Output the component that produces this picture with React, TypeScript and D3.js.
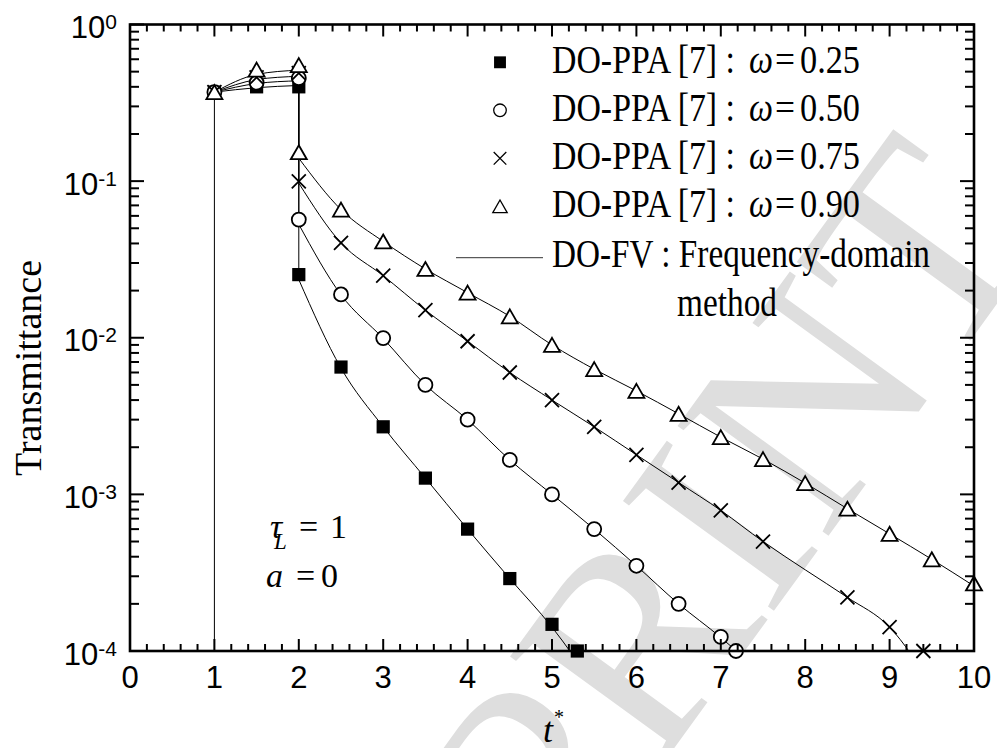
import React from "react";
import * as d3 from "d3";

// ---- data ----
const pulseT = [1, 1.5, 2];
const decayT = [2, 2.5, 3, 3.5, 4, 4.5, 5, 5.5, 6, 6.5, 7, 7.5, 8, 8.5, 9, 9.5, 10];

// DO-PPA [7] markers
const ppaPulse025 = [0.37, 0.40, 0.40];
const ppaPulse050 = [0.37, 0.425, 0.455];
const ppaPulse075 = [0.37, 0.46, 0.49];
const ppaPulse090 = [0.37, 0.515, 0.55];

const ppaT025 = [2, 2.5, 3, 3.5, 4, 4.5, 5, 5.3];
const ppa025 = [0.0253, 0.0065, 0.0027, 0.00127, 0.0006, 0.00029, 0.000148, 0.0001];
const ppaT050 = [2, 2.5, 3, 3.5, 4, 4.5, 5, 5.5, 6, 6.5, 7, 7.18];
const ppa050 = [0.0568, 0.0189, 0.00995, 0.005, 0.003, 0.00166, 0.001, 0.0006, 0.00035, 0.0002, 0.000123, 0.0001];
const ppaT075 = [2, 2.5, 3, 3.5, 4, 4.5, 5, 5.5, 6, 6.5, 7, 7.5, 8.5, 9, 9.4];
const ppa075 = [0.0997, 0.0403, 0.0249, 0.015, 0.0095, 0.006, 0.004, 0.0027, 0.00179, 0.00119, 0.00079, 0.0005, 0.00022, 0.000142, 0.0001];
const ppa090 = [0.153, 0.0658, 0.0412, 0.0275, 0.0194, 0.0137, 0.009, 0.0063, 0.00458, 0.00327, 0.00232, 0.00168, 0.00118, 0.00081, 0.00056, 0.000385, 0.00027];

// DO-FV solid curves
const fvPulse025 = [0.37, 0.395, 0.408];
const fvPulse050 = [0.37, 0.42, 0.437];
const fvPulse075 = [0.37, 0.445, 0.467];
const fvPulse090 = [0.37, 0.48, 0.511];
const fv025 = [0.0235, 0.0064, 0.0027, 0.00127, 0.0006, 0.00029, 0.000142, 0.00006];
const fv050 = [0.053, 0.0188, 0.0099, 0.005, 0.003, 0.00166, 0.001, 0.0006, 0.00035, 0.0002, 0.000122, 0.00007];
const fv075 = [0.097, 0.0403, 0.0249, 0.015, 0.0095, 0.006, 0.004, 0.0027, 0.00179, 0.00119, 0.00079, 0.0005, 0.00033, 0.00022, 0.000142, 0.00006];
const fv090 = [0.14, 0.0658, 0.0412, 0.0275, 0.0194, 0.0137, 0.009, 0.0063, 0.00458, 0.00327, 0.00232, 0.00168, 0.00118, 0.00081, 0.00056, 0.000385, 0.00026];

const xTicks = [0, 1, 2, 3, 4, 5, 6, 7, 8, 9, 10];
const yExps = [0, -1, -2, -3, -4];
const legendLabels = ["0.25", "0.50", "0.75", "0.90"];
const legendShapes = ["square", "circle", "cross", "triangle"];

const SERIF = "'Liberation Serif', 'Times New Roman', serif";
const SANS = "'Liberation Sans', Arial, sans-serif";

const W = 997;
const H = 748;
const x = d3.scaleLinear().domain([0, 10]).range([130, 974]);
const y = d3.scaleLog().domain([1e-4, 1]).range([651, 24.5]);

const curve = d3
  .line<[number, number]>()
  .x((d) => x(d[0]))
  .y((d) => y(d[1]))
  .curve(d3.curveMonotoneX);

const zip = (ts: number[], vs: number[]) => vs.map((v, i) => [ts[i], v] as [number, number]);

function Marker({ shape, cx, cy, s = 1, sw = 1.8 }: any) {
  if (shape === "square") {
    const h = 6.6 * s;
    return <rect x={cx - h} y={cy - h} width={2 * h} height={2 * h} fill="#000" />;
  }
  if (shape === "circle") {
    return <circle cx={cx} cy={cy} r={7 * s} fill="#fff" stroke="#000" strokeWidth={sw} />;
  }
  if (shape === "cross") {
    const h = 7 * s;
    return (
      <path
        d={`M${cx - h},${cy - h}L${cx + h},${cy + h}M${cx - h},${cy + h}L${cx + h},${cy - h}`}
        stroke="#000"
        strokeWidth={sw}
        fill="none"
      />
    );
  }
  const w = 8 * s;
  const h = 7 * s;
  return (
    <path
      d={`M${cx},${cy - h}L${cx + w},${cy + h}L${cx - w},${cy + h}Z`}
      fill="#fff"
      stroke="#000"
      strokeWidth={sw}
    />
  );
}

export default function App() {
  const minorX = d3.range(0, 10.001, 0.2).filter((t) => Math.abs(t - Math.round(t)) > 1e-6);
  const minorY: number[] = [];
  for (let e = -4; e < 0; e++) for (let k = 2; k <= 9; k++) minorY.push(k * Math.pow(10, e));

  const [x0, x1] = x.range();
  const [yb, yt] = y.range();

  const series = [
    { shape: "square", pulse: ppaPulse025, t: ppaT025, v: ppa025, fvp: fvPulse025, fvT: decayT.slice(0, fv025.length), fv: fv025 },
    { shape: "circle", pulse: ppaPulse050, t: ppaT050, v: ppa050, fvp: fvPulse050, fvT: decayT.slice(0, fv050.length), fv: fv050 },
    { shape: "cross", pulse: ppaPulse075, t: ppaT075, v: ppa075, fvp: fvPulse075, fvT: decayT.slice(0, fv075.length), fv: fv075 },
    { shape: "triangle", pulse: ppaPulse090, t: decayT, v: ppa090, fvp: fvPulse090, fvT: decayT, fv: fv090 },
  ];

  return (
    <svg width={W} height={H} style={{ position: "absolute", left: 0, top: 0, background: "#fff" }}>
      <defs>
        <clipPath id="plotClip">
          <rect x={x0} y={yt} width={x1 - x0} height={yb - yt} />
        </clipPath>
      </defs>

      {/* watermark */}
      <text
        transform="translate(1047,235) rotate(-54)"
        textAnchor="end"
        fontFamily={SERIF}
        fontSize={285}
        fill="#dedede"
      >
        PREPRINT
      </text>

      {/* solid DO-FV curves */}
      <g clipPath="url(#plotClip)" fill="none" stroke="#000" strokeWidth={1}>
        <line x1={x(1)} x2={x(1)} y1={y(1e-4)} y2={y(fvPulse025[0])} />
        {series.map((s, i) => (
          <g key={i}>
            <path d={curve(zip(pulseT, s.fvp)) || ""} />
            <line x1={x(2)} x2={x(2)} y1={y(s.fvp[2])} y2={y(s.fv[0])} />
            <path d={curve(zip(s.fvT, s.fv)) || ""} />
          </g>
        ))}
      </g>

      {/* DO-PPA markers */}
      {series.map((s, i) => (
        <g key={i}>
          {s.pulse.map((v, j) => (
            <Marker key={"p" + j} shape={s.shape} cx={x(pulseT[j])} cy={y(v)} />
          ))}
          {s.v.map((v, j) => (
            <Marker key={"d" + j} shape={s.shape} cx={x(s.t[j])} cy={y(v)} />
          ))}
        </g>
      ))}

      {/* frame and ticks */}
      <g stroke="#000" strokeWidth={2}>
        {xTicks.map((t) => (
          <g key={t}>
            <line x1={x(t)} x2={x(t)} y1={yb} y2={yb - 12} />
            <line x1={x(t)} x2={x(t)} y1={yt} y2={yt + 12} />
          </g>
        ))}
        {minorX.map((t) => (
          <g key={t}>
            <line x1={x(t)} x2={x(t)} y1={yb} y2={yb - 7} />
            <line x1={x(t)} x2={x(t)} y1={yt} y2={yt + 7} />
          </g>
        ))}
        {yExps.map((e) => (
          <g key={e}>
            <line x1={x0} x2={x0 + 14} y1={y(Math.pow(10, e))} y2={y(Math.pow(10, e))} />
            <line x1={x1} x2={x1 - 14} y1={y(Math.pow(10, e))} y2={y(Math.pow(10, e))} />
          </g>
        ))}
        {minorY.map((v) => (
          <g key={v}>
            <line x1={x0} x2={x0 + 9} y1={y(v)} y2={y(v)} />
            <line x1={x1} x2={x1 - 9} y1={y(v)} y2={y(v)} />
          </g>
        ))}
        <rect x={x0} y={yt} width={x1 - x0} height={yb - yt} fill="none" strokeWidth={2.6} />
      </g>

      {/* tick labels */}
      <g fontFamily={SANS} fontSize={31} fill="#000">
        {xTicks.map((t) => (
          <text key={t} x={x(t)} y={688} textAnchor="middle">
            {t}
          </text>
        ))}
        {yExps.map((e) => (
          <text key={e} x={117} y={y(Math.pow(10, e)) + 13.5} textAnchor="end">
            10
            <tspan dy={-9} fontSize={21}>
              {e === 0 ? "0" : "-" + Math.abs(e)}
            </tspan>
          </text>
        ))}
      </g>

      {/* axis titles */}
      <text
        transform="translate(41,368) rotate(-90)"
        textAnchor="middle"
        fontFamily={SERIF}
        fontSize={38}
      >
        Transmittance
      </text>
      <text x={543} y={742} fontFamily={SERIF} fontSize={36} fontStyle="italic">
        t
      </text>
      <text x={554} y={724} fontFamily={SERIF} fontSize={20}>
        *
      </text>

      {/* annotation */}
      <g fontFamily={SERIF} fontSize={34}>
        <text x={270} y={538} fontStyle="italic">
          τ
        </text>
        <text x={274} y={549} fontStyle="italic" fontSize={23}>
          L
        </text>
        <text x={299} y={538}>=</text>
        <text x={330} y={538}>1</text>
        <text x={266} y={587} fontStyle="italic">
          a
        </text>
        <text x={296} y={587}>=</text>
        <text x={321} y={587}>0</text>
      </g>

      {/* legend */}
      <g fontFamily={SERIF} fontSize={40}>
        {legendLabels.map((lab, i) => {
          const by = 73.3 + i * 48;
          return (
            <g key={lab}>
              <Marker shape={legendShapes[i]} cx={500} cy={by - 11} s={0.9} sw={1.3} />
              <text x={552} y={by} textLength={183} lengthAdjust="spacingAndGlyphs">
                DO-PPA [7] :
              </text>
              <text x={749} y={by} fontStyle="italic" textLength={24} lengthAdjust="spacingAndGlyphs">
                ω
              </text>
              <text x={775} y={by} textLength={20} lengthAdjust="spacingAndGlyphs">
                =
              </text>
              <text x={800} y={by} textLength={60} lengthAdjust="spacingAndGlyphs">
                {lab}
              </text>
            </g>
          );
        })}
        <line x1={456} x2={543} y1={257.7} y2={257.7} stroke="#333" strokeWidth={1} />
        <text x={552} y={266.5} textLength={378} lengthAdjust="spacingAndGlyphs">
          DO-FV : Frequency-domain
        </text>
        <text x={677} y={316} textLength={100} lengthAdjust="spacingAndGlyphs">
          method
        </text>
      </g>
    </svg>
  );
}
